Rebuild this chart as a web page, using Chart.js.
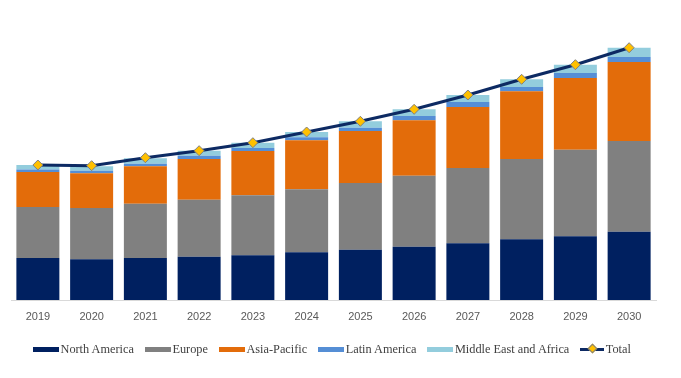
<!DOCTYPE html>
<html>
<head>
<meta charset="utf-8">
<script src="https://cdn.jsdelivr.net/npm/chart.js@4/dist/chart.umd.min.js"></script>
<style>
  html, body { margin: 0; padding: 0; background: #fff; }
  #wrap { position: relative; width: 681px; height: 378px; }
  canvas { position: absolute; left: 0; top: 0; }
  #legend { position: absolute; left: 33px; top: 340px; height: 18px; display: flex; align-items: center;
    font-family: "Liberation Serif", "Times New Roman", serif; font-size: 12.3px; color: #404040; white-space: nowrap; }
  .item { display: flex; align-items: center; margin-right: 11px; }
  .sw { width: 26px; height: 5px; margin-right: 1.5px; }
  .ln { position: relative; width: 24px; height: 3px; background: #0D2A63; margin-right: 1.5px; }
  .ln::after { content: ""; position: absolute; left: 8.5px; top: -2.5px; width: 7px; height: 7px;
    background: #FFC000; border: 1px solid #7f7f7f; box-sizing: border-box; transform: rotate(45deg); }
</style>
</head>
<body>
<div id="wrap">
  <canvas id="c" width="681" height="378"></canvas>
  <div id="legend"></div>
</div>
<script>
const years = ["2019","2020","2021","2022","2023","2024","2025","2026","2027","2028","2029","2030"];
const northAmerica = [42, 40.7, 42, 43.3, 44.7, 47.7, 50.3, 53.3, 56.7, 60.7, 63.7, 68.3];
const europe       = [51, 51.3, 54.3, 57, 60, 63, 66.7, 71, 75.3, 80.3, 86.6, 90.7];
const asiaPacific  = [35, 34.7, 37.4, 40.7, 44.3, 49, 52, 55.4, 61, 67.7, 71.7, 79];
const latinAmerica = [2.5, 2.5, 2.6, 3.3, 3, 3, 3.3, 4.3, 5, 4.3, 5, 5];
const middleEastAfrica = [4.5, 4.5, 5.4, 5, 5.3, 5.3, 6.4, 6.7, 7, 7.7, 8.3, 9.3];
const total        = [135, 134.3, 142.3, 149.3, 157.3, 168, 178.7, 190.7, 205, 220.7, 235.3, 252.3];

const seriesNames = ["North America","Europe","Asia-Pacific","Latin America","Middle East and Africa","Total"];
const colors = ["#002060","#808080","#E36C0A","#558ED5","#93CDDD","#0D2A63"];
const barSeries = [northAmerica, europe, asiaPacific, latinAmerica, middleEastAfrica];

const datasets = barSeries.map((d, i) => ({
  type: 'bar', label: seriesNames[i], data: d, backgroundColor: colors[i],
  stack: 'regions', order: 1, barPercentage: 0.8, categoryPercentage: 1.0, borderWidth: 0
}));
datasets.push({
  type: 'line', label: 'Total', data: total, borderColor: colors[5], borderWidth: 3,
  pointStyle: 'rectRot', pointRadius: 5, pointBackgroundColor: '#FFC000',
  pointBorderColor: '#7F7F7F', pointBorderWidth: 1, stack: 'total', order: 0,
  tension: 0, fill: false
});

new Chart(document.getElementById('c'), {
  type: 'bar',
  data: { labels: years, datasets },
  options: {
    responsive: false, animation: false,
    layout: { padding: { left: 11, right: 25, top: 20, bottom: 58 } },
    plugins: { legend: { display: false }, tooltip: { enabled: false } },
    scales: {
      x: {
        stacked: true,
        grid: { display: false, drawTicks: false },
        border: { display: true, color: '#D9D9D9', width: 1 },
        ticks: { color: '#595959', padding: 10, font: { family: "'Liberation Sans', Arial, sans-serif", size: 11 } },
        afterFit: (s) => { s.height = 20; }
      },
      y: { stacked: true, display: false, min: 0, max: 280 }
    }
  }
});

const lg = document.getElementById('legend');
seriesNames.forEach((n, i) => {
  const it = document.createElement('div'); it.className = 'item';
  const sw = document.createElement('span');
  if (i < 5) { sw.className = 'sw'; sw.style.background = colors[i]; } else { sw.className = 'ln'; }
  const t = document.createElement('span'); t.textContent = n;
  it.appendChild(sw); it.appendChild(t); lg.appendChild(it);
});
</script>
</body>
</html>
